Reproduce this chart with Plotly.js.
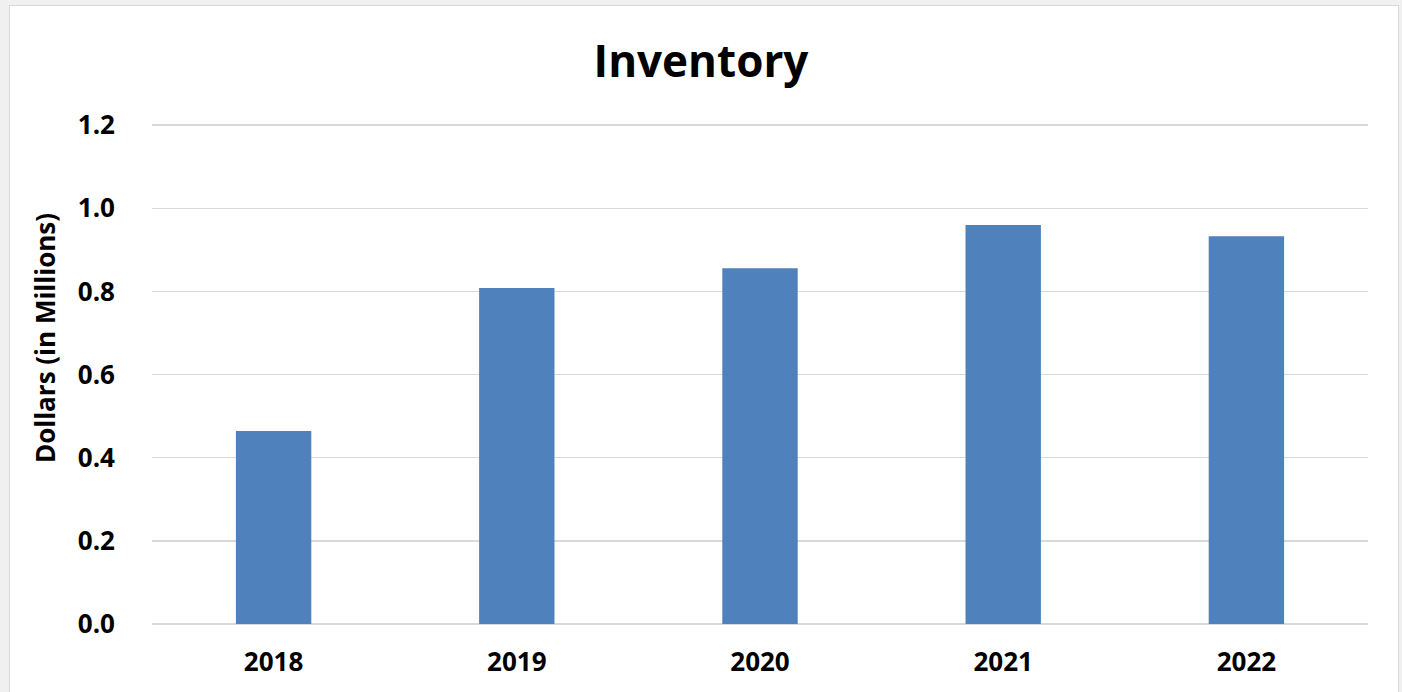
<!DOCTYPE html>
<html>
<head>
<meta charset="utf-8">
<script src="https://cdn.plot.ly/plotly-3.0.1.min.js"></script>
<style>
  html, body { margin: 0; padding: 0; background: #f0f0f0; width: 1402px; height: 692px; overflow: hidden; }
  #frame { position: absolute; left: 9px; top: 5px; width: 1388px; height: 700px; background: #fff; border: 1px solid #d9d9d9; }
  #chart { position: absolute; left: 0; top: 0; width: 1402px; height: 692px; }
</style>
</head>
<body>
<div id="frame"></div>
<div id="chart"></div>
<script>
const years = ['2018', '2019', '2020', '2021', '2022'];
const inventory = [0.464, 0.808, 0.856, 0.960, 0.933];
const yTicks = [0, 0.2, 0.4, 0.6, 0.8, 1.0, 1.2];

const FONT = 'Open Sans, Liberation Sans, sans-serif';
const Y_MAX = 1.21;
const PLOT_H = 499 * Y_MAX / 1.2;

Plotly.newPlot('chart', [{
  type: 'bar',
  x: years,
  y: inventory,
  width: 0.31,
  marker: { color: '#4f81bd', line: { width: 0 } },
  hoverinfo: 'x+y'
}], {
  width: 1402,
  height: 692,
  margin: { l: 152, r: 34, t: 692 - 68 - PLOT_H, b: 68, pad: 0 },
  paper_bgcolor: 'rgba(0,0,0,0)',
  plot_bgcolor: 'rgba(0,0,0,0)',
  showlegend: false,
  title: {
    text: 'Inventory',
    font: { family: FONT, size: 44, color: '#000', weight: 'bold' },
    x: 0.5, xref: 'container', xanchor: 'center',
    y: 1 - 62 / 692, yref: 'container', yanchor: 'middle'
  },
  xaxis: {
    type: 'category',
    tickfont: { family: FONT, size: 26, color: '#000', weight: 'bold' },
    showgrid: false,
    showline: false,
    zeroline: false,
    ticks: '',
    ticklabelstandoff: 20
  },
  yaxis: {
    range: [0, Y_MAX],
    tickvals: yTicks,
    tickformat: '.1f',
    tickfont: { family: FONT, size: 26, color: '#000', weight: 'bold' },
    showgrid: true,
    gridcolor: '#d9d9d9',
    gridwidth: 1.5,
    zeroline: true,
    zerolinecolor: '#d9d9d9',
    zerolinewidth: 1.5,
    showline: false,
    ticks: '',
    ticklabelstandoff: 36
  },
  annotations: [{
    text: 'Dollars (in Millions)',
    textangle: -90,
    font: { family: FONT, size: 26, color: '#000', weight: 'bold' },
    xref: 'paper', yref: 'paper',
    x: (45 - 152) / 1216, y: (624 - 338) / PLOT_H,
    xanchor: 'center', yanchor: 'middle',
    showarrow: false
  }]
}, { displayModeBar: false, staticPlot: true });
</script>
</body>
</html>
